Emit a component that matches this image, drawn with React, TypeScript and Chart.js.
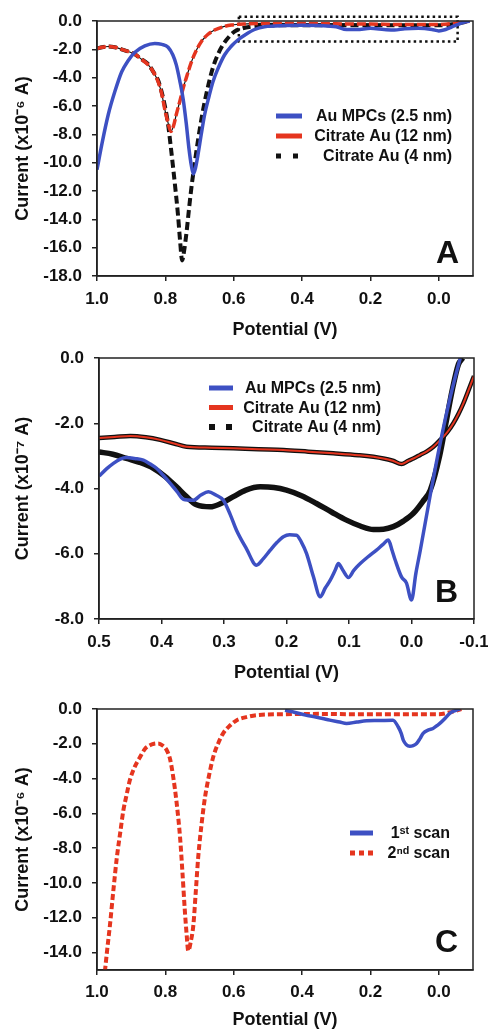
import React, { useEffect, useRef } from "react";
import { Chart, registerables } from "chart.js";

Chart.register(...registerables);

// ---------------- Panel A data ----------------
const seriesLabels = ["Au MPCs (2.5 nm)", "Citrate Au (12 nm)", "Citrate Au (4 nm)"];

const aMpcPotential = [1.0, 0.985, 0.967, 0.948, 0.928, 0.909, 0.889, 0.86, 0.831, 0.81, 0.792, 0.778, 0.768, 0.758, 0.748, 0.739, 0.731, 0.724, 0.718, 0.712, 0.705, 0.695, 0.685, 0.672, 0.661, 0.645, 0.627, 0.608, 0.588, 0.565, 0.539, 0.51, 0.45, 0.4, 0.35, 0.3, 0.27, 0.24, 0.2, 0.16, 0.13, 0.1, 0.06, 0.02, 0.0, -0.02, -0.045, -0.07, -0.09];
const aMpcCurrent = [-10.5, -8.6, -6.6, -5.0, -3.6, -2.8, -2.2, -1.75, -1.58, -1.65, -1.85, -2.4, -3.1, -4.2, -5.5, -7.2, -9.0, -10.2, -10.8, -10.4, -9.5, -8.0, -6.6, -5.3, -4.3, -3.3, -2.4, -1.8, -1.34, -0.95, -0.6, -0.4, -0.32, -0.3, -0.32, -0.4, -0.6, -0.6, -0.52, -0.6, -0.64, -0.55, -0.52, -0.6, -0.7, -0.6, -0.35, -0.12, 0.0];

const aCit12Potential = [1.0, 0.985, 0.967, 0.948, 0.928, 0.909, 0.889, 0.87, 0.85, 0.835, 0.821, 0.81, 0.802, 0.793, 0.784, 0.776, 0.768, 0.758, 0.748, 0.736, 0.724, 0.71, 0.695, 0.676, 0.656, 0.63, 0.607, 0.56, 0.52, 0.4, 0.3, 0.2, 0.1, 0.0, -0.05, -0.09];
const aCit12Current = [-1.95, -1.85, -1.8, -1.85, -2.0, -2.15, -2.35, -2.7, -3.1, -3.6, -4.3, -5.2, -6.2, -7.1, -7.8, -7.4, -6.6, -5.7, -4.75, -3.8, -2.9, -2.1, -1.46, -0.95, -0.64, -0.4, -0.28, -0.2, -0.17, -0.18, -0.2, -0.22, -0.25, -0.25, -0.15, 0.0];

const aCit4Potential = [1.0, 0.985, 0.967, 0.948, 0.928, 0.909, 0.889, 0.87, 0.85, 0.835, 0.821, 0.806, 0.792, 0.785, 0.778, 0.77, 0.763, 0.757, 0.751, 0.745, 0.738, 0.731, 0.724, 0.714, 0.705, 0.695, 0.685, 0.673, 0.661, 0.647, 0.632, 0.615, 0.598, 0.575, 0.549, 0.5, 0.4, 0.3, 0.2, 0.1, 0.0, -0.05, -0.09];
const aCit4Current = [-1.95, -1.85, -1.8, -1.85, -2.0, -2.15, -2.35, -2.7, -3.05, -3.6, -4.2, -5.5, -7.3, -8.7, -10.2, -12.0, -13.7, -15.5, -16.9, -16.2, -14.9, -13.3, -11.8, -10.0, -8.5, -7.0, -5.7, -4.4, -3.3, -2.4, -1.7, -1.15, -0.75, -0.52, -0.4, -0.32, -0.3, -0.3, -0.3, -0.3, -0.3, -0.2, 0.0];

// dotted zoom-region box in panel A
const aBoxPotential = [0.585, -0.055, -0.055, 0.585, 0.585];
const aBoxCurrent = [0.3, 0.3, -1.45, -1.45, 0.3];

const aXTicks = [1.0, 0.8, 0.6, 0.4, 0.2, 0.0];
const aYTicks = [0, -2, -4, -6, -8, -10, -12, -14, -16, -18];

// ---------------- Panel B data ----------------
const bMpcPotential = [0.5, 0.488, 0.477, 0.466, 0.456, 0.443, 0.429, 0.418, 0.408, 0.397, 0.386, 0.375, 0.365, 0.349, 0.337, 0.325, 0.313, 0.301, 0.29, 0.28, 0.264, 0.248, 0.237, 0.226, 0.215, 0.205, 0.195, 0.184, 0.176, 0.168, 0.157, 0.146, 0.138, 0.13, 0.122, 0.117, 0.11, 0.101, 0.092, 0.082, 0.07, 0.056, 0.046, 0.037, 0.031, 0.026, 0.016, 0.008, 0.0, -0.007, -0.014, -0.03, -0.046, -0.062, -0.078];
const bMpcCurrent = [-3.62, -3.4, -3.23, -3.1, -3.05, -3.08, -3.13, -3.25, -3.38, -3.6, -3.84, -4.1, -4.33, -4.36, -4.2, -4.1, -4.2, -4.36, -4.8, -5.28, -5.85, -6.35, -6.15, -5.89, -5.65, -5.48, -5.42, -5.43, -5.65, -5.99, -6.7, -7.32, -7.05, -6.81, -6.5, -6.3, -6.5, -6.73, -6.5, -6.3, -6.1, -5.89, -5.72, -5.58, -5.9, -6.2, -6.71, -6.9, -7.42, -6.6, -5.9, -4.2, -2.6, -1.2, 0.0];

const bCit12Potential = [0.5, 0.475, 0.45, 0.425, 0.402, 0.38, 0.36, 0.32, 0.285, 0.245, 0.205, 0.165, 0.125, 0.085, 0.045, 0.03, 0.016, 0.005, -0.003, -0.014, -0.024, -0.035, -0.046, -0.057, -0.067, -0.075, -0.083, -0.091, -0.1];
const bCit12Current = [-2.45, -2.42, -2.39, -2.43, -2.51, -2.62, -2.72, -2.75, -2.77, -2.8, -2.82, -2.87, -2.92, -2.98, -3.08, -3.15, -3.25, -3.15, -3.08, -2.97, -2.87, -2.72, -2.51, -2.28, -2.0, -1.72, -1.39, -1.0, -0.55];

const bCit4Potential = [0.5, 0.478, 0.456, 0.435, 0.413, 0.395, 0.376, 0.36, 0.344, 0.322, 0.304, 0.285, 0.265, 0.242, 0.22, 0.2, 0.176, 0.152, 0.128, 0.104, 0.082, 0.061, 0.045, 0.029, 0.013, -0.003, -0.018, -0.03, -0.045, -0.055, -0.065, -0.075, -0.082];
const bCit4Current = [-2.88, -2.95, -3.08, -3.2, -3.38, -3.62, -3.95, -4.25, -4.5, -4.56, -4.45, -4.25, -4.05, -3.95, -3.97, -4.05, -4.22, -4.46, -4.72, -4.97, -5.15, -5.26, -5.25, -5.17, -5.0, -4.76, -4.4, -4.05, -3.0, -2.0, -1.0, -0.2, 0.0];

const bXTicks = [0.5, 0.4, 0.3, 0.2, 0.1, 0.0, -0.1];
const bYTicks = [0, -2, -4, -6, -8];

// ---------------- Panel C data ----------------
const scanLabels = ["1\u02E2\u1D57 scan", "2\u207F\u1D48 scan"];

const cScan1Potential = [0.45, 0.42, 0.39, 0.367, 0.34, 0.319, 0.29, 0.27, 0.24, 0.211, 0.18, 0.134, 0.119, 0.11, 0.104, 0.095, 0.085, 0.075, 0.065, 0.055, 0.046, 0.03, 0.017, 0.005, -0.003, -0.018, -0.032, -0.05, -0.062];
const cScan1Current = [-0.08, -0.2, -0.35, -0.44, -0.55, -0.64, -0.75, -0.83, -0.75, -0.68, -0.66, -0.64, -1.02, -1.4, -1.79, -2.05, -2.14, -2.1, -1.98, -1.7, -1.4, -1.2, -1.12, -0.95, -0.83, -0.55, -0.25, -0.08, 0.0];

const cScan2Potential = [0.977, 0.97, 0.962, 0.952, 0.942, 0.932, 0.923, 0.913, 0.904, 0.889, 0.874, 0.86, 0.845, 0.833, 0.821, 0.808, 0.796, 0.786, 0.777, 0.767, 0.757, 0.75, 0.743, 0.738, 0.733, 0.726, 0.718, 0.711, 0.704, 0.694, 0.684, 0.672, 0.66, 0.645, 0.631, 0.611, 0.591, 0.56, 0.533, 0.45, 0.35, 0.25, 0.15, 0.05, 0.0, -0.03, -0.066];
const cScan2Current = [-15.1, -13.8, -12.4, -10.4, -8.54, -7.1, -5.84, -4.9, -4.1, -3.3, -2.76, -2.3, -2.08, -2.0, -1.98, -2.1, -2.37, -2.9, -3.91, -5.4, -7.38, -9.4, -11.6, -12.9, -13.9, -13.4, -12.4, -10.5, -8.54, -6.6, -5.07, -3.8, -2.76, -1.95, -1.4, -0.95, -0.64, -0.45, -0.35, -0.3, -0.28, -0.3, -0.3, -0.3, -0.3, -0.2, 0.0];

const cXTicks = [1.0, 0.8, 0.6, 0.4, 0.2, 0.0];
const cYTicks = [0, -2, -4, -6, -8, -10, -12, -14];

// ---------------- styling ----------------
const FONT = '"Liberation Sans", Arial, Helvetica, sans-serif';
const BLUE = "#3d50c3";
const RED = "#e5351f";
const INK = "#111111";
const FRAME = "#222222";

const pts = (xs: number[], ys: number[]) => xs.map((x, i) => ({ x, y: ys[i] }));

const panelDecor = {
  id: "panelDecor",
  afterDatasetsDraw(chart: any, _args: any, opts: any) {
    const { ctx, chartArea: ca } = chart;
    ctx.save();
    ctx.setLineDash([]);
    ctx.strokeStyle = FRAME;
    ctx.lineWidth = 1.5;
    ctx.strokeRect(ca.left, ca.top, ca.right - ca.left, ca.bottom - ca.top);

    const lg = opts.legend;
    lg.items.forEach((it: any, i: number) => {
      const ds = chart.data.datasets[it.dataset];
      const y = ca.top + lg.top + i * lg.gap;
      const x0 = ca.left + lg.left;
      ctx.beginPath();
      ctx.setLineDash(it.dash || []);
      ctx.lineCap = "butt";
      ctx.lineWidth = it.width;
      ctx.strokeStyle = ds.borderColor;
      ctx.moveTo(x0, y);
      ctx.lineTo(x0 + lg.len, y);
      ctx.stroke();
      ctx.setLineDash([]);
      ctx.fillStyle = INK;
      ctx.font = `bold ${lg.size}px ${FONT}`;
      ctx.textAlign = "right";
      ctx.textBaseline = "middle";
      ctx.fillText(ds.label, ca.left + lg.textRight, y + 1);
    });

    ctx.fillStyle = INK;
    ctx.font = `bold 32px ${FONT}`;
    ctx.textAlign = "right";
    ctx.textBaseline = "alphabetic";
    ctx.fillText(opts.letter, ca.right - opts.letterRight, ca.bottom - opts.letterBottom);
    ctx.restore();
  },
};

function axisX(min: number, max: number, ticks: number[], h: number, tickPad: number, titlePad: number) {
  return {
    type: "linear",
    reverse: true,
    min,
    max,
    afterBuildTicks: (s: any) => {
      s.ticks = ticks.map((v) => ({ value: v }));
    },
    afterFit: (s: any) => {
      s.height = h;
      s.paddingLeft = 0;
      s.paddingRight = 0;
    },
    ticks: {
      autoSkip: false,
      maxRotation: 0,
      padding: tickPad,
      color: INK,
      font: { family: FONT, size: 17, weight: "bold" },
      callback: (v: any) => Number(v).toFixed(1),
    },
    grid: { drawOnChartArea: false, drawTicks: true, tickLength: 5, color: FRAME, lineWidth: 1.5 },
    border: { display: true, color: FRAME, width: 1.5 },
    title: {
      display: true,
      text: "Potential (V)",
      color: INK,
      font: { family: FONT, size: 18, weight: "bold" },
      padding: { top: 0, bottom: titlePad },
    },
  };
}

function axisY(min: number, max: number, ticks: number[], w: number, title: string) {
  return {
    type: "linear",
    min,
    max,
    afterBuildTicks: (s: any) => {
      s.ticks = ticks.map((v) => ({ value: v }));
    },
    afterFit: (s: any) => {
      s.width = w;
      s.paddingTop = 0;
      s.paddingBottom = 0;
    },
    ticks: {
      autoSkip: false,
      padding: 10,
      color: INK,
      font: { family: FONT, size: 17, weight: "bold" },
      callback: (v: any) => Number(v).toFixed(1),
    },
    grid: { drawOnChartArea: false, drawTicks: true, tickLength: 5, color: FRAME, lineWidth: 1.5 },
    border: { display: true, color: FRAME, width: 1.5 },
    title: {
      display: true,
      text: title,
      color: INK,
      font: { family: FONT, size: 18, weight: "bold" },
      padding: { top: 12, bottom: 0 },
    },
  };
}

const line = (extra: any) => ({
  showLine: true,
  pointRadius: 0,
  pointHoverRadius: 0,
  fill: false,
  cubicInterpolationMode: "monotone",
  ...extra,
});

function configA(): any {
  return {
    type: "scatter",
    data: {
      datasets: [
        line({ label: seriesLabels[0], data: pts(aMpcPotential, aMpcCurrent), borderColor: BLUE, borderWidth: 3.5 }),
        line({ label: seriesLabels[1], data: pts(aCit12Potential, aCit12Current), borderColor: RED, borderWidth: 3.5, borderDash: [9, 3] }),
        line({ label: "", data: pts(aCit12Potential, aCit12Current), borderColor: INK, borderWidth: 1.2 }),
        line({ label: seriesLabels[2], data: pts(aCit4Potential, aCit4Current), borderColor: INK, borderWidth: 4, borderDash: [8, 4] }),
        {
          label: "",
          data: pts(aBoxPotential, aBoxCurrent),
          showLine: true,
          pointRadius: 0,
          borderColor: INK,
          borderWidth: 2.5,
          borderDash: [2.5, 3.2],
          clip: false,
        },
      ],
    },
    options: {
      responsive: false,
      animation: false,
      events: [],
      layout: { padding: { top: 21, right: 15, left: 0, bottom: 0 } },
      scales: {
        x: axisX(-0.1, 1.0, aXTicks, 66, 8, 1),
        y: axisY(-18, 0, aYTicks, 97, "Current (x10\u207B\u2076 A)"),
      },
      plugins: {
        legend: { display: false },
        tooltip: { enabled: false },
        panelDecor: {
          letter: "A",
          letterRight: 14,
          letterBottom: 13,
          legend: {
            left: 179,
            top: 95,
            gap: 20,
            len: 26,
            textRight: 355,
            size: 16,
            items: [
              { dataset: 0, width: 5 },
              { dataset: 1, width: 5 },
              { dataset: 3, width: 5, dash: [5, 12] },
            ],
          },
        },
      },
    },
    plugins: [panelDecor],
  };
}

function configB(): any {
  return {
    type: "scatter",
    data: {
      datasets: [
        line({ label: seriesLabels[0], data: pts(bMpcPotential, bMpcCurrent), borderColor: BLUE, borderWidth: 3.5 }),
        line({ label: seriesLabels[1], data: pts(bCit12Potential, bCit12Current), borderColor: RED, borderWidth: 2 }),
        line({ label: "", data: pts(bCit12Potential, bCit12Current), borderColor: INK, borderWidth: 4.5 }),
        line({ label: seriesLabels[2], data: pts(bCit4Potential, bCit4Current), borderColor: INK, borderWidth: 5.5 }),
      ],
    },
    options: {
      responsive: false,
      animation: false,
      events: [],
      layout: { padding: { top: 16, right: 14, left: 0, bottom: 0 } },
      scales: {
        x: axisX(-0.1, 0.5, bXTicks, 69, 8, 4),
        y: axisY(-8, 0, bYTicks, 99, "Current (x10\u207B\u2077 A)"),
      },
      plugins: {
        legend: { display: false },
        tooltip: { enabled: false },
        panelDecor: {
          letter: "B",
          letterRight: 16,
          letterBottom: 17,
          legend: {
            left: 110,
            top: 30,
            gap: 19.5,
            len: 24,
            textRight: 282,
            size: 16,
            items: [
              { dataset: 0, width: 5 },
              { dataset: 1, width: 5 },
              { dataset: 3, width: 6, dash: [6, 11] },
            ],
          },
        },
      },
    },
    plugins: [panelDecor],
  };
}

function configC(): any {
  return {
    type: "scatter",
    data: {
      datasets: [
        line({ label: scanLabels[0], data: pts(cScan1Potential, cScan1Current), borderColor: BLUE, borderWidth: 3.5 }),
        line({ label: scanLabels[1], data: pts(cScan2Potential, cScan2Current), borderColor: RED, borderWidth: 4, borderDash: [6, 3] }),
      ],
    },
    options: {
      responsive: false,
      animation: false,
      events: [],
      layout: { padding: { top: 21, right: 15, left: 0, bottom: 0 } },
      scales: {
        x: axisX(-0.1, 1.0, cXTicks, 62, 7, 1),
        y: axisY(-15, 0, cYTicks, 97, "Current (x10\u207B\u2076 A)"),
      },
      plugins: {
        legend: { display: false },
        tooltip: { enabled: false },
        panelDecor: {
          letter: "C",
          letterRight: 15,
          letterBottom: 18,
          legend: {
            left: 253,
            top: 124,
            gap: 20,
            len: 23,
            textRight: 353,
            size: 16,
            items: [
              { dataset: 0, width: 5 },
              { dataset: 1, width: 5, dash: [5, 4] },
            ],
          },
        },
      },
    },
    plugins: [panelDecor],
  };
}

function Panel({ top, height, make }: { top: number; height: number; make: () => any }) {
  const ref = useRef<HTMLCanvasElement>(null);
  useEffect(() => {
    const chart = new Chart(ref.current as HTMLCanvasElement, make());
    return () => chart.destroy();
  }, []);
  return (
    <canvas
      ref={ref}
      width={488}
      height={height}
      style={{ position: "absolute", left: 0, top, width: 488, height, display: "block" }}
    />
  );
}

export default function App() {
  return (
    <div
      style={{
        position: "absolute",
        left: 0,
        top: 0,
        width: 488,
        height: 1032,
        overflow: "hidden",
        background: "#ffffff",
      }}
    >
      <Panel top={0} height={342} make={configA} />
      <Panel top={342} height={346} make={configB} />
      <Panel top={688} height={344} make={configC} />
    </div>
  );
}
